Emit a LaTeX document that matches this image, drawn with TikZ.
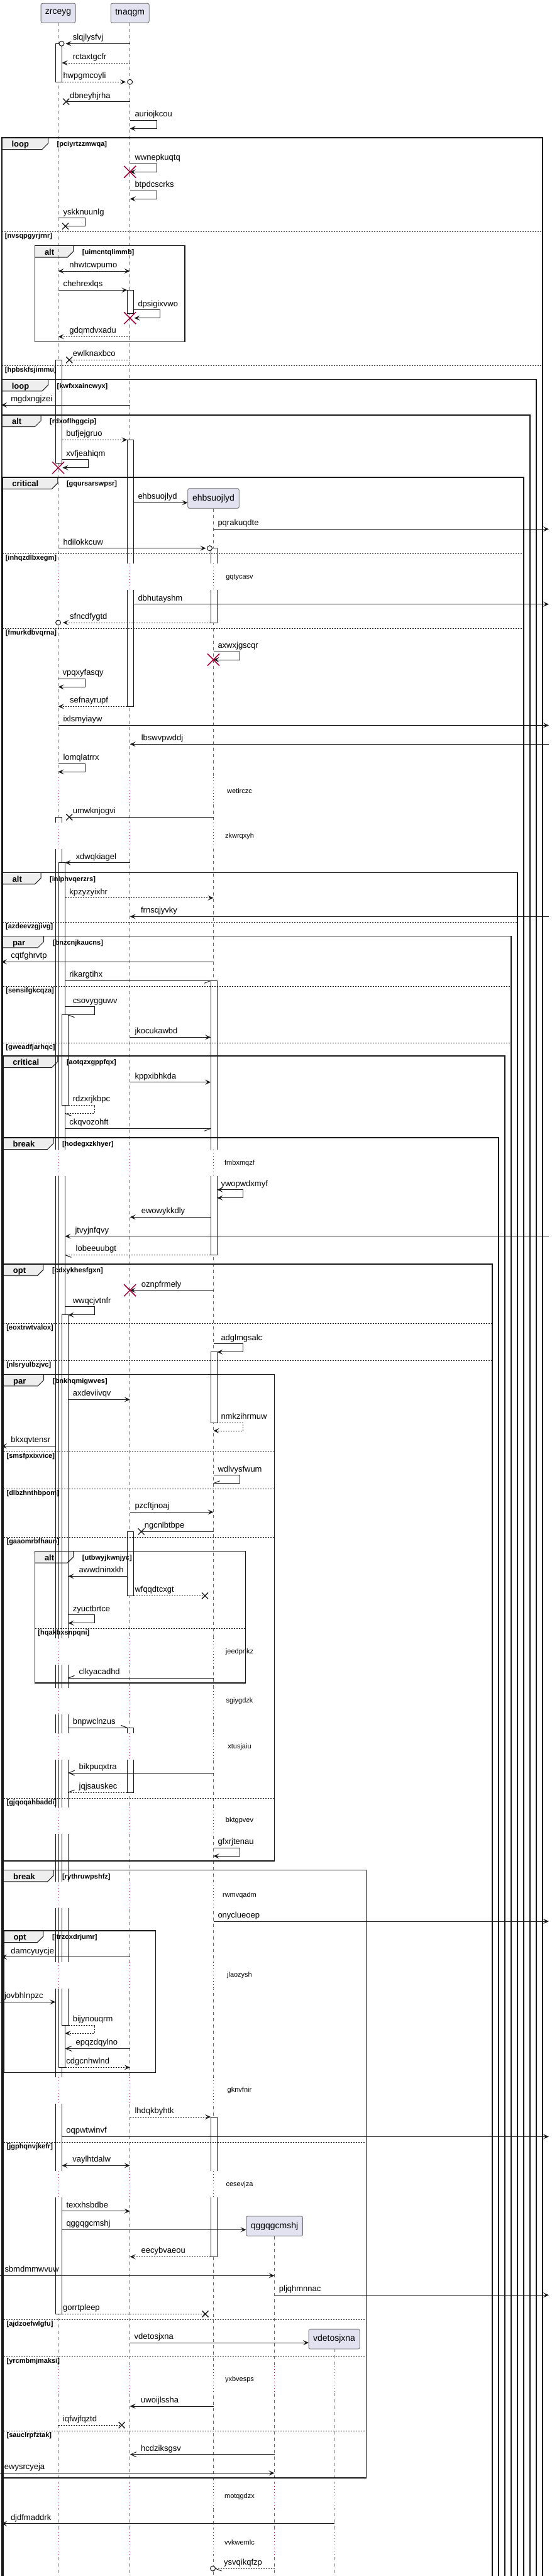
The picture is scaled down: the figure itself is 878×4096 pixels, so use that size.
\documentclass[tikz,border=0pt]{standalone}
\usepackage{fontspec}
\setmainfont{Liberation Sans}
\usepackage{xcolor}
\usetikzlibrary{arrows.meta}
\definecolor{pumlline}{HTML}{181818}
\definecolor{pumlbox}{HTML}{E2E2F0}
\definecolor{pumltab}{HTML}{EEEEEE}
\definecolor{pumlred}{HTML}{A80036}
\pgfdeclarelayer{back}
\pgfdeclarelayer{front}
\pgfsetlayers{back,main,front}

\newcommand\pA{92.6}
\newcommand\pB{206.7}
\newcommand\pC{339.5}
\newcommand\pD{436.5}
\newcommand\pE{531.5}

\newcommand\seqmsg[6][msg]{%
  \coordinate (m-#2-s) at (#3,#5);
  \coordinate (m-#2-e) at (#4,#5);
  \draw[#1] (m-#2-s) -- (m-#2-e);
  \node[lbl] (m-#2) at ({#6},{#5-5.5}) {#2};}
\newcommand\seqself[7][msg]{%
  \coordinate (m-#2-s) at (#3,#5);
  \coordinate (m-#2-e) at ({#6},{#5+13});
  \draw[#1] (m-#2-s) -- ({#4},{#5}) -- ({#4},{#5+13}) -- (m-#2-e);
  \node[lbl] (m-#2) at ({#7},{#5-5.5}) {#2};}
\newcommand\seqbar[3]{\draw[actbar] ({#1},{#2}) rectangle ({#1+10.2},{#3});}
\newcommand\seqx[2]{\draw[msg, line width=1.3pt] ({#1-5},{#2-5}) -- ({#1+5},{#2+5}) ({#1-5},{#2+5}) -- ({#1+5},{#2-5});}
\newcommand\seqkill[2]{\draw[pumlred, line width=1.5pt] ({#1-9.5},{#2-9.5}) -- ({#1+9.5},{#2+9.5}) ({#1-9.5},{#2+9.5}) -- ({#1+9.5},{#2-9.5});}
\newcommand\seqcirc[2]{\draw[msg, fill=white] ({#1},{#2}) circle (4pt);}
\newcommand\seqhalf[3]{\draw[msg] (#1) -- ++(#2,#3);}
\newcommand\seqdelay[3]{%
  \foreach \lx in {#3}{%
    \fill[white] ({\lx-6},{#2-21.5}) rectangle ({\lx+17},{#2+20.5});
    \draw[delayline] (\lx,{#2-21.5}) -- (\lx,{#2+20.5});}
  \node[delaytxt] (d-#1) at (381,#2) {#1};}
\newcommand\seqframe[7]{%
  \begin{pgfonlayer}{back}
    \fill[pumltab] ({#3},{#5}) -- ({#3+#7},{#5}) -- ({#3+#7},{#5+9}) -- ({#3+#7-9.5},{#5+18.5}) -- ({#3},{#5+18.5}) -- cycle;
  \end{pgfonlayer}
  \begin{pgfonlayer}{front}
    \draw[frameline] ({#3},{#5}) rectangle ({#4},{#6});
    \draw[tabline] ({#3+#7},{#5}) -- ({#3+#7},{#5+9}) -- ({#3+#7-9.5},{#5+18.5}) -- ({#3},{#5+18.5});
    \node[tabtxt] (f-#2) at ({#3+15.3},{#5+14.7}) {#1};
    \node[condtxt] (c-#2) at ({#3+#7+14},{#5+13.8}) {[#2]};
  \end{pgfonlayer}}
\newcommand\seqdiv[4]{%
  \begin{pgfonlayer}{front}
    \draw[divline] ({#2},{#4}) -- ({#3},{#4});
    \node[condtxt] (c-#1) at ({#2+4.7},{#4+10.2}) {[#1]};
  \end{pgfonlayer}}

\begin{document}
\begin{tikzpicture}[x=1pt, y=-1pt,
  msg/.style={draw=pumlline, line width=1pt},
  ret/.style={msg, dash pattern=on 2pt off 2pt},
  arr/.style={arrows={-Stealth[length=9pt,width=8pt,inset=4pt]}},
  arrboth/.style={arrows={Stealth[length=9pt,width=8pt,inset=4pt]-Stealth[length=9pt,width=8pt,inset=4pt]}},
  arropen/.style={arrows={-Straight Barb[length=9pt,width=8pt]}},
  lbl/.style={font=\fontsize{13}{15}\selectfont, inner sep=0pt, anchor=base west},
  life/.style={draw=black!60, line width=0.6pt, dash pattern=on 5pt off 5pt},
  actbar/.style={draw=pumlline, fill=white, line width=1pt},
  delayline/.style={draw=pumlred, line width=1pt, dash pattern=on 1pt off 4pt},
  delaytxt/.style={font=\fontsize{11}{13}\selectfont, inner sep=0pt},
  pbox/.style={draw=black!60, fill=pumlbox, rounded corners=2.5pt, line width=0.8pt, inner sep=0pt, font=\fontsize{14}{16}\selectfont},
  frameline/.style={draw=black!90, line width=1.5pt},
  tabline/.style={draw=black!90, line width=1pt},
  divline/.style={draw=black!90, line width=1pt, dash pattern=on 2pt off 2pt},
  tabtxt/.style={font=\bfseries\fontsize{13}{15}\selectfont, inner sep=0pt, anchor=base west},
  condtxt/.style={font=\bfseries\fontsize{11}{13}\selectfont, inner sep=0pt, anchor=base west}
]
\begin{pgfonlayer}{back}
\fill[white] (0,0) rectangle (878,4096);
\end{pgfonlayer}
\useasboundingbox (0,0) rectangle (878,4096);

\node[pbox, minimum width=55pt, minimum height=30.7pt] (zrceyg) at (\pA,20.65) {zrceyg};
\node[pbox, minimum width=61pt, minimum height=30.7pt] (tnaqgm) at (\pB,20.65) {tnaqgm};
\node[pbox, minimum width=81.5pt, minimum height=31.6pt] (ehbsuojlyd) at (\pC,792.5) {ehbsuojlyd};
\node[pbox, minimum width=90pt, minimum height=31.3pt] (qggqgcmshj) at (\pD,3539.6) {qggqgcmshj};
\node[pbox, minimum width=81pt, minimum height=31.7pt] (vdetosjxna) at (\pE,3719.2) {vdetosjxna};
\coordinate (bottom) at (0,4100);
\foreach \p in {zrceyg,tnaqgm,ehbsuojlyd,qggqgcmshj,vdetosjxna}
  \draw[life] (\p.south) -- (\p.south |- bottom);

\seqbar{88.3}{69.3}{130.3}
\seqbar{88.3}{572.3}{736.7}
\seqbar{88.3}{1299.3}{3679.3}
\seqbar{93.3}{1371.7}{3287.3}
\seqbar{98.3}{1613.3}{1757.3}
\seqbar{98.3}{2090.7}{3220}
\seqbar{202.4}{461.3}{498.3}
\seqbar{202.4}{699.3}{1123.3}
\seqbar{202.4}{2435.3}{2537.3}
\seqbar{202.4}{2747.3}{2850}
\seqbar{335.2}{871.7}{990}
\seqbar{335.2}{1559.3}{1995.3}
\seqbar{335.2}{2149.3}{2262}
\seqbar{335.2}{3366}{3588.3}

\seqdelay{gqtycasv}{917.7}{\pA,\pB,\pC}
\seqdelay{wetirczc}{1257.3}{\pA,\pB,\pC}
\seqdelay{zkwrqxyh}{1329.3}{\pA,\pB,\pC}
\seqdelay{fmbxmqzf}{1849.3}{\pA,\pB,\pC}
\seqdelay{jeedpnkz}{2626.7}{\pA,\pB,\pC}
\seqdelay{sgiygdzk}{2705}{\pA,\pB,\pC}
\seqdelay{xtusjaiu}{2777.3}{\pA,\pB,\pC}
\seqdelay{bktgpvev}{2895}{\pA,\pB,\pC}
\seqdelay{rwmvqadm}{3013.3}{\pA,\pB,\pC}
\seqdelay{jlaozysh}{3141}{\pA,\pB,\pC}
\seqdelay{gknvfnir}{3324}{\pA,\pB,\pC}
\seqdelay{cesevjza}{3473.3}{\pA,\pB,\pC}
\seqdelay{yxbvesps}{3783.3}{\pA,\pB,\pC,\pD,\pE}
\seqdelay{motqgdzx}{3969.3}{\pA,\pB,\pC,\pD,\pE}
\seqdelay{vvkwemlc}{4042.3}{\pA,\pB,\pC,\pD,\pE}

\seqmsg[msg,arr]{slqjlysfvj}{\pB}{104.5}{69.3}{115.6}
\seqcirc{98}{69.3}
\seqmsg[ret,arr]{rctaxtgcfr}{\pB}{98.5}{100}{115.6}
\seqmsg[ret,arr]{hwpgmcoyli}{98.5}{200}{130.3}{100.3}
\seqcirc{\pB}{130.3}
\seqmsg[msg]{dbneyhjrha}{\pB}{105.2}{161.7}{111}
\seqx{105.2}{161.7}
\seqself[msg,arr]{auriojkcou}{\pB}{249.5}{191.3}{\pB}{214.3}
\seqself[msg,arr]{wwnepkuqtq}{\pB}{249.5}{260.3}{\pB}{214.3}
\seqkill{\pB}{273.3}
\seqself[msg,arr]{btpdcscrks}{\pB}{249.5}{303.3}{\pB}{214.3}
\seqself[msg]{yskknuunlg}{\pA}{135.5}{346.7}{104}{100.3}
\seqx{104}{359.7}
\seqmsg[msg,arrboth]{nhwtcwpumo}{\pA}{\pB}{431}{110.2}
\seqmsg[msg,arr]{chehrexlqs}{\pA}{202.4}{461.3}{100.3}
\seqself[msg,arr]{dpsigixvwo}{212.6}{254.5}{492.7}{213.5}{219.3}
\seqkill{\pB}{505.7}
\seqmsg[ret,arr]{gdqmdvxadu}{\pB}{\pA}{535.3}{110.2}
\seqmsg[ret]{ewlknaxbco}{\pB}{110.2}{572.3}{115.6}
\seqx{110.2}{572.3}
\seqmsg[msg,arr]{mgdxngjzei}{\pB}{2}{644}{17.2}
\seqmsg[ret,arr]{bufjejgruo}{98.5}{202.4}{699.3}{105.2}
\seqself[msg,arr]{xvfjeahiqm}{98.5}{140.5}{730.7}{99.5}{105.2}
\seqkill{\pA}{743.7}
\seqmsg[msg,arr]{ehbsuojlyd}{212.6}{298.5}{799.3}{219.3}
\seqmsg[msg,arr]{pqrakuqdte}{\pC}{873}{841.3}{346.3}
\seqmsg[msg,arr]{hdilokkcuw}{\pA}{327.5}{871.7}{100.3}
\seqcirc{333.5}{871.7}
\seqmsg[msg,arr]{dbhutayshm}{212.6}{873}{960.7}{219.3}
\seqmsg[ret,arr]{sfncdfygtd}{335.2}{100}{990}{111}
\seqcirc{\pA}{990}
\seqself[msg,arr]{axwxjgscqr}{\pC}{381.5}{1036}{\pC}{346.3}
\seqkill{\pC}{1049}
\seqself[msg,arr]{vpqxyfasqy}{\pA}{135.5}{1079.3}{\pA}{99.5}
\seqmsg[ret,arr]{sefnayrupf}{202.4}{\pA}{1123.3}{111}
\seqmsg[msg,arr]{ixlsmyiayw}{\pA}{873}{1153.3}{100.3}
\seqmsg[msg,arr]{lbswvpwddj}{873}{\pB}{1183.3}{224.6}
\seqself[msg,arr]{lomqlatrrx}{\pA}{135.5}{1214.3}{\pA}{100.3}
\seqmsg[msg]{umwknjogvi}{\pC}{110.2}{1299.3}{115.6}
\seqx{110.2}{1299.3}
\seqmsg[msg,arr]{xdwqkiagel}{\pB}{103.5}{1371.7}{120.5}
\seqmsg[ret,arr]{kpzyzyixhr}{103.5}{\pC}{1427.7}{110.2}
\seqmsg[msg,arr]{frnsqjyvky}{873}{\pB}{1457.3}{223.9}
\seqmsg[msg,arr]{cqtfghrvtp}{\pC}{2}{1529.3}{17.2}
\seqmsg[msg]{rikargtihx}{103.5}{335.2}{1559.3}{110.2}
\seqhalf{m-rikargtihx-e}{-10}{4}
\seqself[msg]{csovygguwv}{103.5}{150.4}{1600.7}{108.5}{115.6}
\seqhalf{m-csovygguwv-e}{10}{4}
\seqmsg[msg,arr]{jkocukawbd}{\pB}{335.2}{1649.3}{214.3}
\seqmsg[msg,arr]{kppxibhkda}{\pB}{335.2}{1720.7}{214.3}
\seqself[ret]{rdzxrjkbpc}{108.5}{150.4}{1757.3}{103.5}{115.6}
\seqhalf{m-rdzxrjkbpc-e}{10}{4}
\seqmsg[msg]{ckqvozohft}{103.5}{335.2}{1794.3}{110.2}
\seqhalf{m-ckqvozohft-e}{-10}{4}
\seqself[msg,arrboth]{ywopwdxmyf}{345.4}{386.5}{1891.7}{345.4}{351.3}
\seqmsg[msg,arr]{ewowykkdly}{335.2}{\pB}{1935.3}{224.6}
\seqmsg[msg,arr]{jtvyjnfqvy}{873}{103.5}{1965.7}{119.4}
\seqmsg[ret]{lobeeuubgt}{335.2}{103.5}{1995.3}{120.5}
\seqhalf{m-lobeeuubgt-e}{10}{4}
\seqmsg[msg,arr]{oznpfrmely}{\pC}{\pB}{2051.7}{224.6}
\seqkill{\pB}{2051.7}
\seqself[msg,arr]{wwqcjvtnfr}{103.5}{150.4}{2077.7}{108.5}{115.6}
\seqself[msg,arr]{adglmgsalc}{\pC}{386.5}{2136.7}{345.4}{351.3}
\seqmsg[msg,arr]{axdeviivqv}{108.5}{\pB}{2225.3}{115.6}
\seqself[ret,arr]{nmkzihrmuw}{345.4}{386.5}{2262}{\pC}{351.3}
\seqmsg[msg,arr]{bkxqvtensr}{88.3}{2}{2299.3}{17.2}
\seqself[msg]{wdlvysfwum}{\pC}{381.5}{2345.7}{\pC}{346.3}
\seqhalf{m-wdlvysfwum-e}{10}{-4}
\seqmsg[msg,arr]{pzcftjnoaj}{\pB}{\pC}{2404.3}{214.3}
\seqmsg[msg]{ngcnlbtbpe}{\pC}{224.6}{2435.3}{229.6}
\seqx{224.6}{2435.3}
\seqmsg[msg,arr]{awwdninxkh}{202.4}{108.5}{2506.3}{125.5}
\seqmsg[ret]{wfqqdtcxgt}{212.6}{326}{2537.3}{214.3}
\seqx{326}{2537.3}
\seqself[msg,arr]{zyuctbrtce}{108.5}{150.4}{2567.7}{108.5}{115.6}
\seqmsg[msg]{clkyacadhd}{\pC}{108.5}{2668.3}{125.5}
\seqhalf{m-clkyacadhd-e}{10}{-4}
\seqmsg[msg]{bnpwclnzus}{108.5}{202.4}{2747.3}{115.6}
\seqhalf{m-bnpwclnzus-e}{-10}{-4}
\seqmsg[msg,arropen]{bikpuqxtra}{\pC}{108.5}{2819}{125.5}
\seqmsg[ret]{jqjsauskec}{202.4}{108.5}{2850}{125.5}
\seqhalf{m-jqjsauskec-e}{10}{-4}
\seqself[msg,arr]{gfxrjtenau}{\pC}{381.5}{2938.3}{\pC}{346.3}
\seqmsg[msg,arr]{onyclueoep}{\pC}{873}{3055}{346.3}
\seqmsg[msg,arr]{damcyuycje}{\pB}{2}{3111.7}{17.2}
\seqmsg[msg,arr]{jovbhlnpzc}{0}{88.3}{3183.3}{6.9}
\seqself[ret,arr]{bijynouqrm}{108.5}{150.4}{3220}{103.5}{115.6}
\seqmsg[msg,arropen]{epqzdqylno}{\pB}{103.5}{3257.3}{120.5}
\seqmsg[ret,arr]{cdgcnhwlnd}{103.5}{\pB}{3287.3}{105.2}
\seqmsg[ret,arr]{lhdqkbyhtk}{\pB}{335.2}{3366}{214.3}
\seqmsg[msg,arr]{oqpwtwinvf}{98.5}{873}{3397.3}{105.2}
\seqmsg[msg,arrboth]{vaylhtdalw}{98.5}{\pB}{3443.3}{115.1}
\seqmsg[msg,arr]{texxhsbdbe}{98.5}{\pB}{3515.7}{105.3}
\seqmsg[msg,arr]{qggqgcmshj}{98.5}{391.5}{3545.3}{105.3}
\seqmsg[ret,arr]{eecybvaeou}{335.2}{\pB}{3588.3}{224.5}
\seqmsg[msg,arr]{sbmdmmwvuw}{0}{\pD}{3618.3}{7.3}
\seqmsg[msg,arr]{pljqhmnnac}{\pD}{873}{3649.3}{443.7}
\seqmsg[ret]{gorrtpleep}{98.5}{326.5}{3679.3}{100}
\seqx{326.5}{3679.3}
\seqmsg[msg,arr]{vdetosjxna}{\pB}{491}{3725}{213.5}
\seqmsg[msg,arr]{uwoijlssha}{\pC}{\pB}{3826}{224}
\seqmsg[ret]{iqfwjfqztd}{\pA}{193.7}{3856}{99.7}
\seqx{193.7}{3856}
\seqmsg[msg,arropen]{hcdziksgsv}{\pD}{\pB}{3902.7}{224}
\seqmsg[msg,arr]{ewysrcyeja}{0}{\pD}{3932.3}{6.7}
\seqmsg[msg,arr]{djdfmaddrk}{\pE}{2}{4012.7}{16.8}
\seqmsg[ret]{ysvqikqfzp}{\pD}{342.5}{4084}{356}
\seqhalf{m-ysvqikqfzp-e}{10}{4}
\seqcirc{338.5}{4084}

\seqframe{loop}{pciyrtzzmwqa}{3}{863}{219}{4110}{73.5}
\seqframe{loop}{kwfxxaincwyx}{3.3}{853}{603.3}{4110}{73.2}
\seqframe{alt}{rdxoflhggcip}{3.6}{843}{660}{4110}{61.4}
\seqframe{critical}{gqursarswpsr}{3.9}{833}{759}{4110}{87.9}
\seqframe{alt}{inlphvqerzrs}{4.2}{823}{1387.3}{4110}{60.8}
\seqframe{par}{bnzcnjkaucns}{4.5}{813}{1488.3}{4110}{65.2}
\seqframe{critical}{aotqzxgppfqx}{4.8}{803}{1679}{4110}{87}
\seqframe{break}{hodegxzkhyer}{5.1}{793}{1809}{4110}{79.9}
\seqframe{opt}{cdxykhesfgxn}{5.4}{783}{2010}{4110}{63.5}
\seqframe{alt}{uimcntqlimmb}{55.5}{293.9}{390.7}{543.3}{61.2}
\seqframe{par}{bnkhqmigwves}{5.7}{436.3}{2185.3}{2959}{64}
\seqframe{alt}{utbwyjkwnjyc}{55.5}{390.4}{2466.7}{2676}{61.2}
\seqframe{break}{rythruwpshfz}{5.7}{582.5}{2973.3}{3940}{79.3}
\seqframe{opt}{ltrzoxdrjumr}{6}{247.6}{3070}{3295.3}{62.9}

\seqdiv{nvsqpgyrjrnr}{3}{863}{368.3}
\seqdiv{hpbskfsjimmu}{3}{863}{581}
\seqdiv{inhqzdlbxegm}{3.9}{833}{880}
\seqdiv{fmurkdbvqrna}{3.9}{833}{999}
\seqdiv{azdeevzgjivg}{4.2}{823}{1466.7}
\seqdiv{sensifgkcqza}{4.5}{813}{1568.7}
\seqdiv{gweadfjarhqc}{4.5}{813}{1658.3}
\seqdiv{eoxtrwtvalox}{5.4}{783}{2104.3}
\seqdiv{nlsryulbzjvc}{5.4}{783}{2163.7}
\seqdiv{smsfpxixvice}{5.7}{436.3}{2308}
\seqdiv{dlbzhnthbpom}{5.7}{436.3}{2367.3}
\seqdiv{gaaomrbfhaun}{5.7}{436.3}{2444}
\seqdiv{hqakbxsnpqni}{55.5}{390.4}{2589.3}
\seqdiv{gjqoqahbaddi}{5.7}{436.3}{2859.3}
\seqdiv{jgphqnvjkefr}{5.7}{582.5}{3406}
\seqdiv{ajdzoefwlgfu}{5.7}{582.5}{3688.3}
\seqdiv{yrcmbmjmaksi}{5.7}{582.5}{3747.3}
\seqdiv{sauclrpfztak}{5.7}{582.5}{3865.3}
\end{tikzpicture}
\end{document}
